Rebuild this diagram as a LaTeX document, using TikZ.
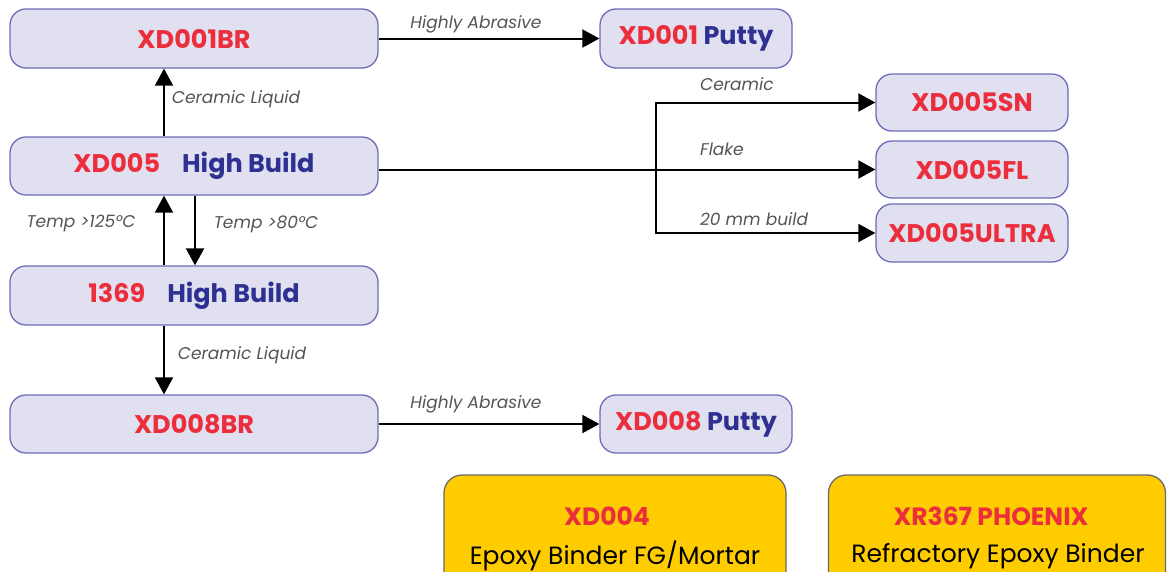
\documentclass[tikz,border=0pt]{standalone}
\usepackage{fontspec}
\setmainfont{Poppins}
\usetikzlibrary{arrows.meta,positioning,calc}
\definecolor{boxfill}{HTML}{E0E0F0}
\definecolor{boxline}{HTML}{6C6CB8}
\definecolor{redtxt}{HTML}{EC2D3C}
\definecolor{bluetxt}{HTML}{2E3192}
\definecolor{lbl}{HTML}{555555}
\definecolor{yel}{HTML}{FFCC00}
\definecolor{yline}{HTML}{6A6A6A}
\tikzset{
  x=1pt,y=-1pt,
  pbox/.style={draw=boxline,fill=boxfill,line width=1.3pt,rounded corners=16pt,inner sep=0pt,font=\fontsize{25.5}{28}\selectfont\bfseries},
  ybox/.style={draw=yline,fill=yel,line width=1.3pt,rounded corners=18pt,inner sep=0pt},
  lab/.style={text=lbl,font=\fontsize{17}{20}\selectfont\itshape,inner sep=0pt},
  arr/.style={line width=2pt,-{Triangle[length=17pt,width=18pt]}},
}
\newcommand{\rt}[1]{\textcolor{redtxt}{#1}}
\newcommand{\bt}[1]{\textcolor{bluetxt}{#1}}
\begin{document}
\begin{tikzpicture}
\clip (0,0) rectangle (1168,571);
\fill[white] (0,0) rectangle (1168,571);
% boxes
\node[pbox,minimum width=368pt,minimum height=59pt] (xd001br) at (194,38.5) {\rt{XD001BR}};
\node[pbox,minimum width=192pt,minimum height=59pt] (xd001p) at (696,38.5) {\rt{XD001} \bt{Putty}};
\node[pbox,minimum width=368pt,minimum height=58pt] (xd005) at (194,166) {\rt{XD005}\hspace{22pt}\bt{High Build}};
\node[pbox,minimum width=368pt,minimum height=59pt] (h1369) at (194,295.5) {\rt{1369}\hspace{22pt}\bt{High Build}};
\node[pbox,minimum width=368pt,minimum height=58pt] (xd008br) at (194,424) {\rt{XD008BR}};
\node[pbox,minimum width=192pt,minimum height=58pt] (xd008p) at (696,424) {\rt{XD008} \bt{Putty}};
\node[pbox,minimum width=192pt,minimum height=57pt] (sn) at (972,102.5) {\rt{XD005SN}};
\node[pbox,minimum width=192pt,minimum height=57pt] (fl) at (972,169.5) {\rt{XD005FL}};
\node[pbox,minimum width=192pt,minimum height=58pt] (ultra) at (972,233) {\rt{XD005ULTRA}};
% yellow boxes
\node[ybox,minimum width=342pt,minimum height=116pt] (xd004) at (615,533) {};
\node[ybox,minimum width=337pt,minimum height=116pt] (xr367) at (997,533) {};
\node[font=\fontsize{25}{28}\selectfont\bfseries,text=redtxt] (xd004a) at (607,516) {XD004};
\node[font=\fontsize{25}{28}\selectfont,text=black] (xd004b) at (615,556) {Epoxy Binder FG/Mortar};
\node[font=\fontsize{25}{28}\selectfont\bfseries,text=redtxt] (xr367a) at (991,516) {XR367 PHOENIX};
\node[font=\fontsize{25}{28}\selectfont,text=black] (xr367b) at (998,556) {Refractory Epoxy Binder};
% connectors
\draw[arr] (xd001br.east) -- (xd001p.west);
\draw[arr] (xd008br.east) -- (xd008p.west);
\draw[arr] ([xshift=-30pt]xd005.north) -- ([xshift=-30pt]xd001br.south);
\draw[arr] ([xshift=-30pt]h1369.north) -- ([xshift=-30pt]xd005.south);
\draw[arr] ([xshift=1pt]xd005.south) -- ([xshift=1pt]h1369.north);
\draw[arr] ([xshift=-30pt]h1369.south) -- ([xshift=-30pt]xd008br.north);
\coordinate (br) at (656,169.5);
\draw[arr] (xd005.east |- br) -- (fl.west);
\draw[arr] (br) |- (sn.west);
\draw[arr] (br) |- (ultra.west);
% labels
\node[lab] (l1) at (476,24) {Highly Abrasive};
\node[lab] (l2) at (476,404) {Highly Abrasive};
\node[lab] (l3) at (236,99) {Ceramic Liquid};
\node[lab] (l4) at (242,355) {Ceramic Liquid};
\node[lab] (l5) at (81,224) {Temp >125°C};
\node[lab] (l6) at (266,224) {Temp >80°C};
\node[lab,anchor=west] (l7) at (700,84) {Ceramic};
\node[lab,anchor=west] (l8) at (700,149) {Flake};
\node[lab,anchor=west] (l9) at (700,219) {20 mm build};
\end{tikzpicture}
\end{document}
